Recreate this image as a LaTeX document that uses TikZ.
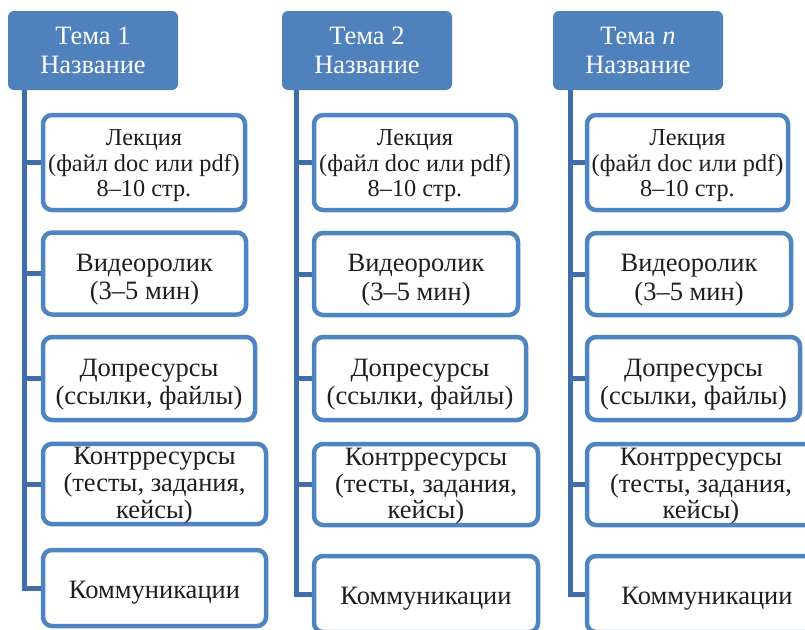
\documentclass[tikz,border=0pt]{standalone}
\usepackage{fontspec}
\setmainfont{Liberation Serif}
\usetikzlibrary{backgrounds}
\definecolor{hdr}{HTML}{4F81BD}
\definecolor{brd}{HTML}{5084C0}
\definecolor{lnk}{HTML}{3F6EA9}
\definecolor{txt}{HTML}{1E1E1E}
\newcommand\dn[1]{\rule{0pt}{#1}}
\tikzset{
  hbox/.style={draw=none, fill=hdr, rounded corners=6pt, text=white,
    font=\fontsize{26.5}{29}\selectfont, align=center, inner sep=0pt,
    minimum width=170pt, minimum height=79pt},
  cbox/.style={draw=brd, line width=4.5pt, fill=white, rounded corners=9pt,
    text=txt, font=\fontsize{26.5}{28.5}\selectfont, align=center, inner sep=0pt},
  lbox/.style={cbox, font=\fontsize{24.3}{25.5}\selectfont},
  kbox/.style={cbox, font=\fontsize{26.5}{26.8}\selectfont},
  conn/.style={draw=lnk, line width=5pt},
}
\begin{document}
\begin{tikzpicture}[x=1pt,y=-1pt]
\useasboundingbox (0,0) rectangle (805,629);
\clip (0,0) rectangle (805,629);
% trunk positions
\coordinate (v1) at (24,0);
\coordinate (v2) at (296,0);
\coordinate (v3) at (570,0);
% headers
\node[hbox] (h1) at (93,50.5) {Тема 1\\Название};
\node[hbox] (h2) at (367,50.5) {Тема 2\\Название};
\node[hbox] (h3) at (638,50.5) {Тема \textit{n}\\Название};
% column 1
\node[lbox, minimum width=202pt, minimum height=95pt] (b11) at (144,162.5) {\dn{23pt}Лекция\\(файл doc или pdf)\\8–10 стр.};
\node[cbox, minimum width=203pt, minimum height=82pt] (b12) at (144.5,273.5) {\dn{30pt}Видеоролик\\(3–5 мин)};
\node[cbox, minimum width=212pt, minimum height=83pt] (b13) at (149,378.5) {\dn{30pt}Допресурсы\\(ссылки, файлы)};
\node[kbox, minimum width=223pt, minimum height=80pt] (b14) at (154.5,484) {\dn{21pt}Контрресурсы\\(тесты, задания,\\кейсы)};
\node[cbox, minimum width=223pt, minimum height=76pt] (b15) at (154.5,588) {\dn{26pt}Коммуникации};
% column 2
\node[lbox, minimum width=202pt, minimum height=95pt] (b21) at (415,162.5) {\dn{23pt}Лекция\\(файл doc или pdf)\\8–10 стр.};
\node[cbox, minimum width=204pt, minimum height=82pt] (b22) at (416,274) {\dn{30pt}Видеоролик\\(3–5 мин)};
\node[cbox, minimum width=212pt, minimum height=83pt] (b23) at (420,378.5) {\dn{30pt}Допресурсы\\(ссылки, файлы)};
\node[kbox, minimum width=224pt, minimum height=81pt] (b24) at (426,484.5) {\dn{21pt}Контрресурсы\\(тесты, задания,\\кейсы)};
\node[cbox, minimum width=224pt, minimum height=76pt] (b25) at (426,594) {\dn{26pt}Коммуникации};
% column 3
\node[lbox, minimum width=201pt, minimum height=95pt] (b31) at (687.5,162.5) {\dn{23pt}Лекция\\(файл doc или pdf)\\8–10 стр.};
\node[cbox, minimum width=204pt, minimum height=82pt] (b32) at (689,274) {\dn{30pt}Видеоролик\\(3–5 мин)};
\node[cbox, minimum width=213pt, minimum height=83pt] (b33) at (693.5,378.5) {\dn{30pt}Допресурсы\\(ссылки, файлы)};
\node[kbox, minimum width=228pt, minimum height=81pt] (b34) at (701,484.5) {\dn{21pt}Контрресурсы\\(тесты, задания,\\кейсы)};
\node[cbox, minimum width=240pt, minimum height=76pt] (b35) at (707,594) {\dn{26pt}Коммуникации};
% connectors
\begin{scope}[on background layer]
\foreach \c in {1,2,3}{
  \foreach \k in {1,...,5}{
    \draw[conn] (h\c.south -| v\c) |- (b\c\k.west);
  }
}
\end{scope}
\end{tikzpicture}
\end{document}
